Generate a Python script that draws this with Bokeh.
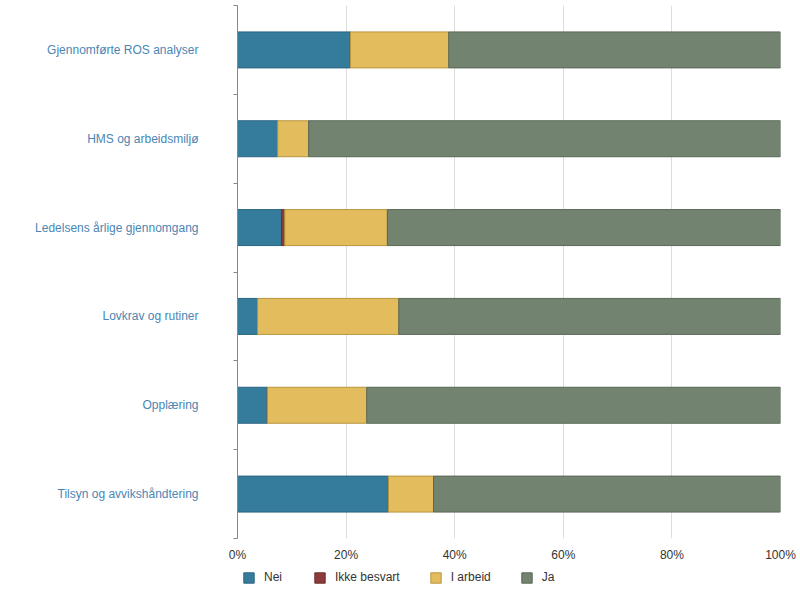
from bokeh.plotting import figure
from bokeh.layouts import column
from bokeh.models import (ColumnDataSource, Range1d, FixedTicker, PrintfTickFormatter,
                          Legend, LegendItem)
from bokeh.embed import file_html
from bokeh.resources import INLINE

categories = ["Gjennomførte ROS analyser", "HMS og arbeidsmiljø", "Ledelsens årlige gjennomgang",
              "Lovkrav og rutiner", "Opplæring", "Tilsyn og avvikshåndtering"]
nei = [20.8, 7.4, 8.1, 3.7, 5.5, 27.8]
ikke_besvart = [0.0, 0.0, 0.6, 0.0, 0.0, 0.0]
i_arbeid = [18.1, 5.7, 18.9, 26.0, 18.3, 8.3]
ja = [61.1, 86.9, 72.4, 70.3, 76.2, 63.9]
series_names = ["Nei", "Ikke besvart", "I arbeid", "Ja"]
x_ticks = [0, 20, 40, 60, 80, 100]

fills = ["#357c9c", "#8c3b3b", "#e3bc5d", "#72846f"]
lines = ["#2b6480", "#6e2e2e", "#b8963f", "#5a6858"]
stack_cols = ["nei", "ikke", "arb", "ja"]

n = len(categories)
ypos = [n - i - 0.5 for i in range(n)]
source = ColumnDataSource(dict(y=ypos, nei=nei, ikke=ikke_besvart, arb=i_arbeid, ja=ja))

p = figure(width=800, height=565, x_range=Range1d(0, 100), y_range=Range1d(0, n),
           output_backend="svg", toolbar_location=None,
           min_border_left=237, min_border_right=20, min_border_top=5, min_border_bottom=27)
p.outline_line_color = None

renderers = p.hbar_stack(stack_cols, y="y", height=0.405, source=source,
                         fill_color=fills, line_color=lines, line_width=1)

# x axis
p.xaxis.ticker = FixedTicker(ticks=x_ticks)
p.xaxis.formatter = PrintfTickFormatter(format="%d%%")
p.xaxis.axis_line_color = None
p.xaxis.major_tick_line_color = None
p.xaxis.minor_tick_line_color = None
p.xaxis.major_tick_out = 0
p.xaxis.major_tick_in = 0
p.xaxis.major_label_text_font = "Liberation Sans"
p.xaxis.major_label_text_font_size = "12px"
p.xaxis.major_label_text_color = "#333333"
p.xaxis.major_label_standoff = 9
p.xgrid.ticker = FixedTicker(ticks=x_ticks)
p.xgrid.grid_line_color = "#dddddd"
p.ygrid.grid_line_color = None

# y axis: labels at centers, ticks at boundaries
p.yaxis.ticker = FixedTicker(ticks=ypos, minor_ticks=list(range(n + 1)))
p.yaxis.major_label_overrides = {y: c for y, c in zip(ypos, categories)}
p.yaxis.major_tick_line_color = None
p.yaxis.major_tick_out = 0
p.yaxis.major_tick_in = 0
p.yaxis.minor_tick_in = 0
p.yaxis.minor_tick_out = 4
p.yaxis.minor_tick_line_color = "#888888"
p.yaxis.axis_line_color = "#888888"
p.yaxis.major_label_standoff = 35
p.yaxis.major_label_text_font = "Liberation Sans"
p.yaxis.major_label_text_font_size = "12px"
p.yaxis.major_label_text_color = "#4a86b4"

# legend strip (its own small figure; its bars lie outside its visible range)
lg = figure(width=800, height=35, x_range=Range1d(1000, 1001), y_range=Range1d(1000, 1001),
            output_backend="svg", toolbar_location=None, x_axis_type=None, y_axis_type=None,
            min_border_left=237, min_border_right=20, min_border_top=0, min_border_bottom=0)
lg.outline_line_color = None
lg.xgrid.grid_line_color = None
lg.ygrid.grid_line_color = None
lg_renderers = lg.hbar_stack(stack_cols, y="y", height=0.405, source=source,
                             fill_color=fills, line_color=lines, line_width=1)

legend = Legend(items=[LegendItem(label=nm, renderers=[r]) for nm, r in zip(series_names, lg_renderers)],
                orientation="horizontal", location=(5, 16),
                border_line_color=None, background_fill_alpha=0,
                glyph_width=13, glyph_height=13, label_standoff=9, spacing=29,
                padding=0, margin=0,
                label_text_font="Liberation Sans", label_text_font_size="12px",
                label_text_color="#333333")
lg.add_layout(legend, "center")

layout = column(p, lg, spacing=0)
open("out.html", "w").write(file_html(layout, INLINE))
